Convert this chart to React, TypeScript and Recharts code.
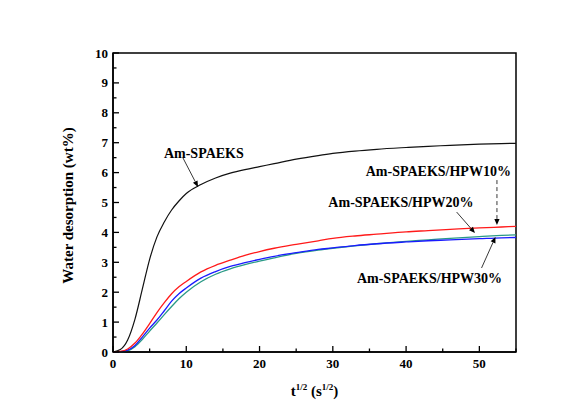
import React from 'react';
import { LineChart, Line, XAxis, YAxis, ReferenceArea, ReferenceLine, ReferenceDot } from 'recharts';

// ---- data ----
const tValues = [0, 1, 2, 3, 4, 5, 6, 7, 8, 9, 10, 12, 14, 16, 18, 20, 22, 25, 28, 30, 33, 36, 40, 43, 46, 50, 53, 55];
const amSpaeks = [0, 0.08, 0.4, 1.1, 2.1, 3.1, 3.85, 4.35, 4.75, 5.05, 5.3, 5.6, 5.82, 5.98, 6.1, 6.2, 6.3, 6.45, 6.57, 6.64, 6.72, 6.78, 6.84, 6.88, 6.91, 6.95, 6.97, 6.98];
const hpw10 = [0, 0.02, 0.1, 0.3, 0.6, 0.95, 1.32, 1.65, 1.95, 2.18, 2.36, 2.68, 2.9, 3.07, 3.23, 3.36, 3.47, 3.6, 3.72, 3.8, 3.88, 3.94, 4.02, 4.06, 4.1, 4.15, 4.18, 4.2];
const hpw20 = [0, 0, 0.04, 0.18, 0.42, 0.7, 0.97, 1.25, 1.52, 1.78, 2.0, 2.35, 2.6, 2.78, 2.92, 3.04, 3.15, 3.3, 3.41, 3.47, 3.55, 3.62, 3.7, 3.75, 3.8, 3.86, 3.9, 3.92];
const hpw30 = [0, 0.01, 0.06, 0.22, 0.5, 0.8, 1.07, 1.38, 1.7, 1.95, 2.14, 2.47, 2.69, 2.86, 2.99, 3.1, 3.2, 3.32, 3.43, 3.48, 3.56, 3.62, 3.68, 3.72, 3.75, 3.79, 3.82, 3.83];

const xTicks = [0, 5, 10, 15, 20, 25, 30, 35, 40, 45, 50, 55];
const yTicks = [0, 0.5, 1, 1.5, 2, 2.5, 3, 3.5, 4, 4.5, 5, 5.5, 6, 6.5, 7, 7.5, 8, 8.5, 9, 9.5, 10];

const seriesNames = ['Am-SPAEKS', 'Am-SPAEKS/HPW10%', 'Am-SPAEKS/HPW20%', 'Am-SPAEKS/HPW30%'];

// annotation text anchors (data coordinates)
const labelX = [12.4, 44.4, 39.3, 43.2];
const labelY = [6.66, 6.05, 5.02, 2.47];
// annotation arrows (data coordinates): from -> to
const arrowFromX = [9.55, 52.4, 46.9, 50.3];
const arrowFromY = [6.49, 5.75, 4.68, 2.81];
const arrowToX = [11.6, 52.4, 49.4, 52.2];
const arrowToY = [5.52, 4.25, 3.98, 3.85];
const arrowDashed = [false, true, false, false];

const data = tValues.map((t, i) => ({
  t,
  a: amSpaeks[i],
  b: hpw10[i],
  c: hpw20[i],
  d: hpw30[i],
}));

const FONT = "'Liberation Serif', 'Times New Roman', serif";

const XTick = (props: any) => {
  const { x, y, payload } = props;
  const v = payload.value;
  const major = v % 10 === 0;
  return (
    <g>
      <line x1={x} x2={x} y1={y} y2={y - (major ? 6 : 3.5)} stroke="#000" strokeWidth={1.3} />
      {major && (
        <text x={x} y={y + 16} textAnchor="middle" fontFamily={FONT} fontWeight="bold" fontSize={13} fill="#000">
          {v}
        </text>
      )}
    </g>
  );
};

const YTick = (props: any) => {
  const { x, y, payload } = props;
  const v = payload.value;
  const major = Number.isInteger(v);
  return (
    <g>
      <line x1={x} x2={x + (major ? 6 : 3.5)} y1={y} y2={y} stroke="#000" strokeWidth={1.3} />
      {major && (
        <text x={x - 5} y={y + 4.5} textAnchor="end" fontFamily={FONT} fontWeight="bold" fontSize={13} fill="#000">
          {v}
        </text>
      )}
    </g>
  );
};

const XTitle = (props: any) => {
  const vb = props.viewBox;
  const cx = vb.x + vb.width / 2;
  return (
    <text x={cx} y={vb.y + 44} textAnchor="middle" fontFamily={FONT} fontWeight="bold" fontSize={15} fill="#000">
      <tspan>t</tspan>
      <tspan fontSize={9} dy={-6}>1/2</tspan>
      <tspan dy={6}> (s</tspan>
      <tspan fontSize={9} dy={-6}>1/2</tspan>
      <tspan dy={6}>)</tspan>
    </text>
  );
};

const YTitle = (props: any) => {
  const vb = props.viewBox;
  const cx = vb.x + 10;
  const cy = vb.y + vb.height / 2 + 3;
  return (
    <text
      x={cx}
      y={cy}
      transform={`rotate(-90, ${cx}, ${cy})`}
      textAnchor="middle"
      fontFamily={FONT}
      fontWeight="bold"
      fontSize={15}
      fill="#000"
    >
      Water desorption (wt%)
    </text>
  );
};

const makeArrow = (dashed: boolean) => (p: any) => {
  const { x1, y1, x2, y2 } = p;
  const ang = Math.atan2(y2 - y1, x2 - x1);
  const len = 6;
  const hw = 2.6;
  const bx = x2 - len * Math.cos(ang);
  const by = y2 - len * Math.sin(ang);
  const px = -Math.sin(ang) * hw;
  const py = Math.cos(ang) * hw;
  return (
    <g>
      <line x1={x1} y1={y1} x2={bx} y2={by} stroke="#222" strokeWidth={0.9} strokeDasharray={dashed ? '4 3' : undefined} />
      <polygon points={`${x2},${y2} ${bx + px},${by + py} ${bx - px},${by - py}`} fill="#000" />
    </g>
  );
};

const makeText = (text: string) => (p: any) => (
  <text x={p.cx} y={p.cy + 5} textAnchor="middle" fontFamily={FONT} fontWeight="bold" fontSize={14} fill="#000">
    {text}
  </text>
);

export default function App() {
  return (
    <div style={{ position: 'absolute', left: 0, top: 0, width: 584, height: 414, background: '#fff' }}>
      <LineChart width={584} height={414} data={data} margin={{ top: 53, right: 68, left: 63, bottom: 12 }}>
        <XAxis
          dataKey="t"
          type="number"
          domain={[0, 55]}
          ticks={xTicks}
          interval={0}
          height={50}
          tickSize={0}
          tickMargin={0}
          tickLine={false}
          tick={<XTick />}
          axisLine={{ stroke: '#000', strokeWidth: 1.5 }}
          label={<XTitle />}
        />
        <YAxis
          type="number"
          domain={[0, 10]}
          ticks={yTicks}
          interval={0}
          width={50}
          tickSize={0}
          tickMargin={0}
          tickLine={false}
          tick={<YTick />}
          axisLine={{ stroke: '#000', strokeWidth: 1.5 }}
          label={<YTitle />}
        />
        <ReferenceArea x1={0} x2={55} y1={0} y2={10} fill="none" stroke="#000" strokeWidth={1.5} ifOverflow="extendDomain" />
        <Line dataKey="a" name={seriesNames[0]} type="monotone" stroke="#111111" strokeWidth={1.2} dot={false} isAnimationActive={false} />
        <Line dataKey="c" name={seriesNames[2]} type="monotone" stroke="#2a9a86" strokeWidth={1.3} dot={false} isAnimationActive={false} />
        <Line dataKey="d" name={seriesNames[3]} type="monotone" stroke="#1a1aff" strokeWidth={1.3} dot={false} isAnimationActive={false} />
        <Line dataKey="b" name={seriesNames[1]} type="monotone" stroke="#ff1a1a" strokeWidth={1.3} dot={false} isAnimationActive={false} />
        {seriesNames.map((n, i) => (
          <ReferenceLine
            key={'arr' + i}
            segment={[
              { x: arrowFromX[i], y: arrowFromY[i] },
              { x: arrowToX[i], y: arrowToY[i] },
            ]}
            ifOverflow="visible"
            shape={makeArrow(arrowDashed[i])}
          />
        ))}
        {seriesNames.map((n, i) => (
          <ReferenceDot key={'lbl' + i} x={labelX[i]} y={labelY[i]} r={0} ifOverflow="visible" shape={makeText(n)} />
        ))}
      </LineChart>
    </div>
  );
}
